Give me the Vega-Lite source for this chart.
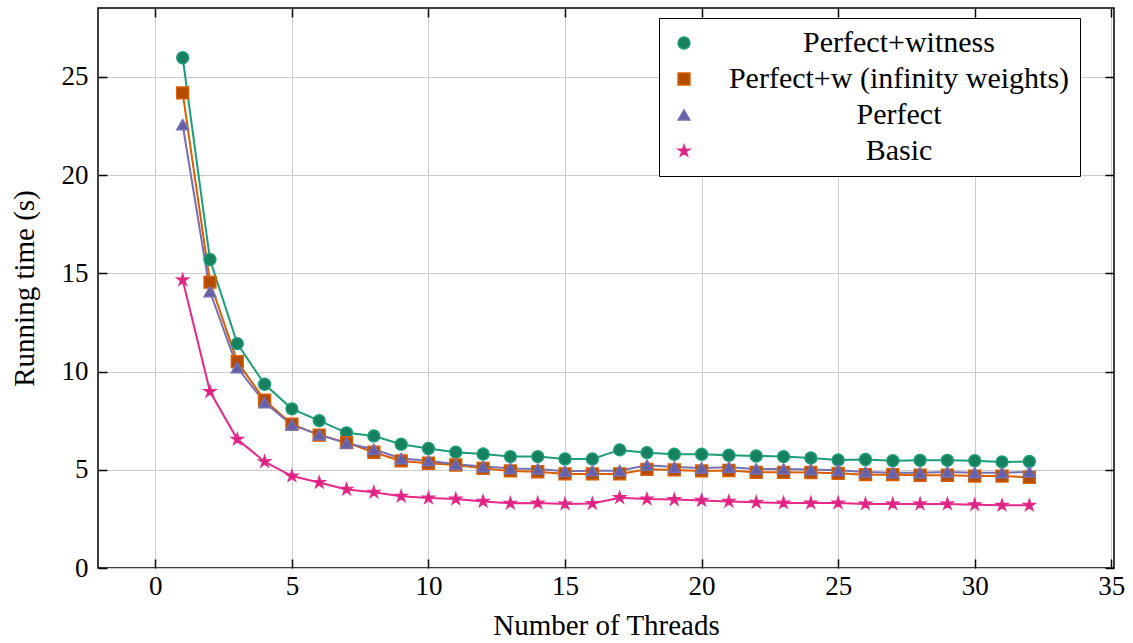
{
"$schema": "https://vega.github.io/schema/vega-lite/v6.json",
"width": 1016, "height": 560,
"autosize": {"type": "none"},
"padding": {"left": 98, "top": 8, "right": 19, "bottom": 75},
"background": "white",
"config": {
  "font": "Liberation Serif",
  "view": {"stroke": "black", "strokeWidth": 1.5},
  "axis": {"domain": false, "grid": true, "gridColor": "#cccccc", "gridWidth": 1, "tickColor": "black", "tickWidth": 1.5, "tickSize": -9, "labelColor": "black", "titleColor": "black", "labelFontSize": 27, "titleFontSize": 29, "titleFontWeight": "normal", "labelFont": "Liberation Serif", "titleFont": "Liberation Serif"},
  "legend": {"title": null, "orient": "none", "legendX": 561, "legendY": 10, "strokeColor": "black", "fillColor": "white", "padding": 10, "cornerRadius": 0, "labelFontSize": 30, "labelFont": "serif", "labelColor": "black", "labelAlign": "center", "labelOffset": 200, "labelLimit": 600, "rowPadding": 6, "symbolSize": 140, "symbolStrokeWidth": 1.5}
},
"data": {"values": [
{"t":1,"s":"Perfect+witness","v":25.97},{"t":2,"s":"Perfect+witness","v":15.7},{"t":3,"s":"Perfect+witness","v":11.42},{"t":4,"s":"Perfect+witness","v":9.35},{"t":5,"s":"Perfect+witness","v":8.1},{"t":6,"s":"Perfect+witness","v":7.5},{"t":7,"s":"Perfect+witness","v":6.88},{"t":8,"s":"Perfect+witness","v":6.72},{"t":9,"s":"Perfect+witness","v":6.3},{"t":10,"s":"Perfect+witness","v":6.08},{"t":11,"s":"Perfect+witness","v":5.89},{"t":12,"s":"Perfect+witness","v":5.8},{"t":13,"s":"Perfect+witness","v":5.67},{"t":14,"s":"Perfect+witness","v":5.67},{"t":15,"s":"Perfect+witness","v":5.55},{"t":16,"s":"Perfect+witness","v":5.55},{"t":17,"s":"Perfect+witness","v":6.01},{"t":18,"s":"Perfect+witness","v":5.87},{"t":19,"s":"Perfect+witness","v":5.79},{"t":20,"s":"Perfect+witness","v":5.79},{"t":21,"s":"Perfect+witness","v":5.74},{"t":22,"s":"Perfect+witness","v":5.7},{"t":23,"s":"Perfect+witness","v":5.67},{"t":24,"s":"Perfect+witness","v":5.6},{"t":25,"s":"Perfect+witness","v":5.5},{"t":26,"s":"Perfect+witness","v":5.52},{"t":27,"s":"Perfect+witness","v":5.46},{"t":28,"s":"Perfect+witness","v":5.48},{"t":29,"s":"Perfect+witness","v":5.48},{"t":30,"s":"Perfect+witness","v":5.46},{"t":31,"s":"Perfect+witness","v":5.4},{"t":32,"s":"Perfect+witness","v":5.42},
{"t":1,"s":"Perfect+w (infinity weights)","v":24.18},{"t":2,"s":"Perfect+w (infinity weights)","v":14.55},{"t":3,"s":"Perfect+w (infinity weights)","v":10.5},{"t":4,"s":"Perfect+w (infinity weights)","v":8.54},{"t":5,"s":"Perfect+w (infinity weights)","v":7.32},{"t":6,"s":"Perfect+w (infinity weights)","v":6.76},{"t":7,"s":"Perfect+w (infinity weights)","v":6.38},{"t":8,"s":"Perfect+w (infinity weights)","v":5.89},{"t":9,"s":"Perfect+w (infinity weights)","v":5.45},{"t":10,"s":"Perfect+w (infinity weights)","v":5.33},{"t":11,"s":"Perfect+w (infinity weights)","v":5.24},{"t":12,"s":"Perfect+w (infinity weights)","v":5.07},{"t":13,"s":"Perfect+w (infinity weights)","v":4.94},{"t":14,"s":"Perfect+w (infinity weights)","v":4.9},{"t":15,"s":"Perfect+w (infinity weights)","v":4.79},{"t":16,"s":"Perfect+w (infinity weights)","v":4.79},{"t":17,"s":"Perfect+w (infinity weights)","v":4.79},{"t":18,"s":"Perfect+w (infinity weights)","v":5.02},{"t":19,"s":"Perfect+w (infinity weights)","v":4.99},{"t":20,"s":"Perfect+w (infinity weights)","v":4.94},{"t":21,"s":"Perfect+w (infinity weights)","v":4.96},{"t":22,"s":"Perfect+w (infinity weights)","v":4.87},{"t":23,"s":"Perfect+w (infinity weights)","v":4.87},{"t":24,"s":"Perfect+w (infinity weights)","v":4.86},{"t":25,"s":"Perfect+w (infinity weights)","v":4.82},{"t":26,"s":"Perfect+w (infinity weights)","v":4.75},{"t":27,"s":"Perfect+w (infinity weights)","v":4.75},{"t":28,"s":"Perfect+w (infinity weights)","v":4.72},{"t":29,"s":"Perfect+w (infinity weights)","v":4.72},{"t":30,"s":"Perfect+w (infinity weights)","v":4.68},{"t":31,"s":"Perfect+w (infinity weights)","v":4.68},{"t":32,"s":"Perfect+w (infinity weights)","v":4.62},
{"t":1,"s":"Perfect","v":22.56},{"t":2,"s":"Perfect","v":14.07},{"t":3,"s":"Perfect","v":10.2},{"t":4,"s":"Perfect","v":8.42},{"t":5,"s":"Perfect","v":7.28},{"t":6,"s":"Perfect","v":6.79},{"t":7,"s":"Perfect","v":6.35},{"t":8,"s":"Perfect","v":6.04},{"t":9,"s":"Perfect","v":5.57},{"t":10,"s":"Perfect","v":5.46},{"t":11,"s":"Perfect","v":5.28},{"t":12,"s":"Perfect","v":5.16},{"t":13,"s":"Perfect","v":5.07},{"t":14,"s":"Perfect","v":5.04},{"t":15,"s":"Perfect","v":4.92},{"t":16,"s":"Perfect","v":4.95},{"t":17,"s":"Perfect","v":4.95},{"t":18,"s":"Perfect","v":5.23},{"t":19,"s":"Perfect","v":5.14},{"t":20,"s":"Perfect","v":5.09},{"t":21,"s":"Perfect","v":5.13},{"t":22,"s":"Perfect","v":5.04},{"t":23,"s":"Perfect","v":5.04},{"t":24,"s":"Perfect","v":5.01},{"t":25,"s":"Perfect","v":4.97},{"t":26,"s":"Perfect","v":4.89},{"t":27,"s":"Perfect","v":4.85},{"t":28,"s":"Perfect","v":4.85},{"t":29,"s":"Perfect","v":4.89},{"t":30,"s":"Perfect","v":4.85},{"t":31,"s":"Perfect","v":4.85},{"t":32,"s":"Perfect","v":4.89},
{"t":1,"s":"Basic","v":14.66},{"t":2,"s":"Basic","v":8.98},{"t":3,"s":"Basic","v":6.55},{"t":4,"s":"Basic","v":5.41},{"t":5,"s":"Basic","v":4.68},{"t":6,"s":"Basic","v":4.35},{"t":7,"s":"Basic","v":4.0},{"t":8,"s":"Basic","v":3.85},{"t":9,"s":"Basic","v":3.65},{"t":10,"s":"Basic","v":3.56},{"t":11,"s":"Basic","v":3.51},{"t":12,"s":"Basic","v":3.39},{"t":13,"s":"Basic","v":3.29},{"t":14,"s":"Basic","v":3.31},{"t":15,"s":"Basic","v":3.26},{"t":16,"s":"Basic","v":3.28},{"t":17,"s":"Basic","v":3.58},{"t":18,"s":"Basic","v":3.51},{"t":19,"s":"Basic","v":3.48},{"t":20,"s":"Basic","v":3.44},{"t":21,"s":"Basic","v":3.39},{"t":22,"s":"Basic","v":3.34},{"t":23,"s":"Basic","v":3.31},{"t":24,"s":"Basic","v":3.31},{"t":25,"s":"Basic","v":3.31},{"t":26,"s":"Basic","v":3.26},{"t":27,"s":"Basic","v":3.26},{"t":28,"s":"Basic","v":3.26},{"t":29,"s":"Basic","v":3.26},{"t":30,"s":"Basic","v":3.22},{"t":31,"s":"Basic","v":3.19},{"t":32,"s":"Basic","v":3.19}
]},
"layer": [
  {
    "mark": {"type": "line", "strokeWidth": 2},
    "encoding": {
      "x": {"field": "t", "type": "quantitative", "scale": {"domain": [-2.1, 35.1], "nice": false, "zero": false}, "axis": {"orient": "bottom", "values": [0,5,10,15,20,25,30,35], "title": "Number of Threads", "labelPadding": 14, "titlePadding": 12}},
      "y": {"field": "v", "type": "quantitative", "scale": {"domain": [0, 28.5], "nice": false}, "axis": {"orient": "left", "values": [0,5,10,15,20,25], "title": "Running time (s)", "labelPadding": 19, "titlePadding": 22}},
      "stroke": {"field": "s", "type": "nominal", "scale": {"domain": ["Perfect+witness", "Perfect+w (infinity weights)", "Perfect", "Basic"], "range": ["#1b9e77", "#d95f02", "#7570b3", "#e7298a"]}}
    }
  },
  {
    "mark": {"type": "point", "filled": true, "strokeWidth": 1.5, "opacity": 1},
    "encoding": {
      "x": {"field": "t", "type": "quantitative", "axis": null},
      "y": {"field": "v", "type": "quantitative", "axis": null},
      "stroke": {"field": "s", "type": "nominal"},
      "fill": {"field": "s", "type": "nominal", "scale": {"domain": ["Perfect+witness", "Perfect+w (infinity weights)", "Perfect", "Basic"], "range": ["#16805f", "#b24d00", "#655fa5", "#d6247e"]}},
      "shape": {"field": "s", "type": "nominal", "scale": {"domain": ["Perfect+witness", "Perfect+w (infinity weights)", "Perfect", "Basic"], "range": ["circle", "square", "triangle-up", "M0,-1L0.223,-0.307L0.951,-0.309L0.361,0.117L0.588,0.809L0,0.38L-0.588,0.809L-0.361,0.117L-0.951,-0.309L-0.223,-0.307Z"]}},
      "size": {"value": 140}
    }
  },
  {
    "mark": {"type": "point", "opacity": 0},
    "encoding": {
      "x": {"field": "t", "type": "quantitative", "axis": {"orient": "top", "values": [0,5,10,15,20,25,30,35], "labels": false, "grid": false, "title": null}},
      "y": {"field": "v", "type": "quantitative", "axis": {"orient": "right", "values": [0,5,10,15,20,25], "labels": false, "grid": false, "title": null}}
    }
  }
],
"resolve": {"axis": {"x": "independent", "y": "independent"}}
}
